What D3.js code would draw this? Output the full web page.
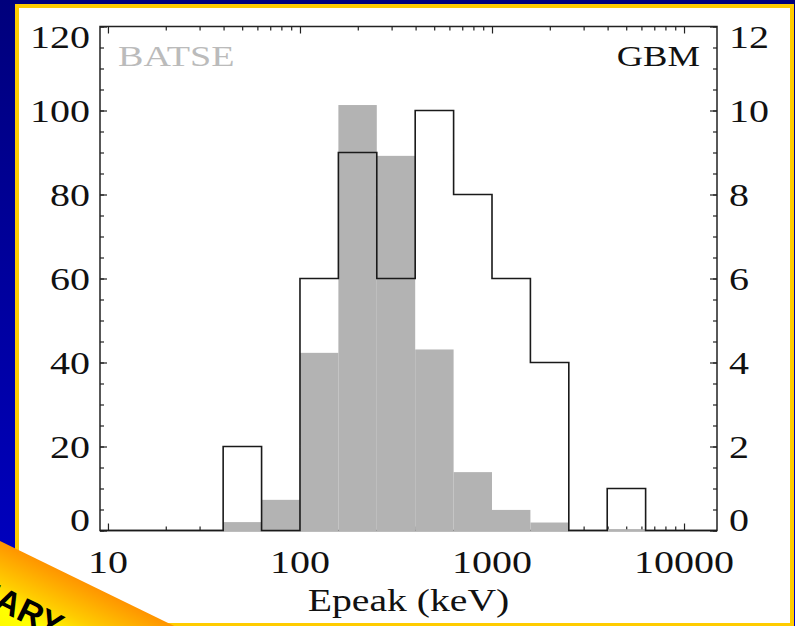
<!DOCTYPE html>
<html>
<head>
<meta charset="utf-8">
<script src="https://cdn.jsdelivr.net/npm/d3@7/dist/d3.min.js"></script>
<style>
  html, body { margin: 0; padding: 0; background: #fff; }
  svg { display: block; }
</style>
</head>
<body>
<script>
// Epeak distributions: BATSE (filled, left axis) and GBM (outline, right axis)
const binEdges = [39.8, 63.1, 100, 158.5, 251.2, 398.1, 631.0, 1000, 1584.9, 2511.9, 3981.1, 6309.6];
const batseCounts = [2, 7.3, 42.3, 101.3, 89.2, 43.1, 13.9, 4.9, 1.9, 0, 0.3];
const gbmCounts = [2, 0, 6, 9, 6, 10, 8, 6, 4, 0, 1];
const xTickLabels = [10, 100, 1000, 10000];
const leftTickLabels = [0, 20, 40, 60, 80, 100, 120];
const rightTickLabels = [0, 2, 4, 6, 8, 10, 12];
const xDomain = [9.09, 14850];
const leftDomain = [0, 120];
const rightDomain = [0, 12];

const W = 795, H = 626;
const frame = { left: 100, right: 717, top: 26.5, bottom: 530.5 };
const serif = "'Liberation Serif', 'Times New Roman', serif";

const svg = d3.select("body").append("svg").attr("width", W).attr("height", H);
const defs = svg.append("defs");

// slide background
const bg = defs.append("linearGradient").attr("id", "bgGrad").attr("x1", 0).attr("y1", 0).attr("x2", 0).attr("y2", 1);
bg.append("stop").attr("offset", 0).attr("stop-color", "#00007c");
bg.append("stop").attr("offset", 1).attr("stop-color", "#0000c6");
svg.append("rect").attr("width", W).attr("height", H).attr("fill", "url(#bgGrad)");

// white panel with yellow border
svg.append("rect").attr("x", 17).attr("y", 6).attr("width", 775).attr("height", 619)
  .attr("fill", "#fff").attr("stroke", "#ffcc00").attr("stroke-width", 4);

const x = d3.scaleLog().domain(xDomain).range([frame.left, frame.right]);
const yL = d3.scaleLinear().domain(leftDomain).range([frame.bottom, frame.top]);
const yR = d3.scaleLinear().domain(rightDomain).range([frame.bottom, frame.top]);

const plot = svg.append("g");

// inward frame ticks
function tickGroup(axis, tx, ty) {
  const g = plot.append("g").attr("transform", `translate(${tx},${ty})`).call(axis);
  g.select(".domain").remove();
  g.selectAll("text").remove();
  g.selectAll("line").attr("stroke", "#222").attr("stroke-width", 1.2);
  return g;
}
const majorX = xTickLabels;
const minorX = [];
for (let d = 1; d <= 10000; d *= 10) for (let m = 2; m <= 9; m++) {
  const v = d * m;
  if (v > xDomain[0] && v < xDomain[1]) minorX.push(v);
}
tickGroup(d3.axisTop(x).tickValues(majorX).tickSize(7), 0, frame.bottom);
tickGroup(d3.axisTop(x).tickValues(minorX).tickSize(4), 0, frame.bottom);
tickGroup(d3.axisBottom(x).tickValues(majorX).tickSize(7), 0, frame.top);
tickGroup(d3.axisBottom(x).tickValues(minorX).tickSize(4), 0, frame.top);
tickGroup(d3.axisRight(yL).tickValues(d3.range(0, 121, 20)).tickSize(7), frame.left, 0);
tickGroup(d3.axisRight(yL).tickValues(d3.range(0, 121, 5)).tickSize(4), frame.left, 0);
tickGroup(d3.axisLeft(yR).tickValues(d3.range(0, 12.1, 2)).tickSize(7), frame.right, 0);
tickGroup(d3.axisLeft(yR).tickValues(d3.range(0, 12.1, 0.5)).tickSize(4), frame.right, 0);

// frame
plot.append("rect").attr("x", frame.left).attr("y", frame.top)
  .attr("width", frame.right - frame.left).attr("height", frame.bottom - frame.top)
  .attr("fill", "none").attr("stroke", "#222").attr("stroke-width", 1.5);

// BATSE filled histogram
const bins = batseCounts.map((v, i) => ({ x0: binEdges[i], x1: binEdges[i + 1], batse: v, gbm: gbmCounts[i] }));
plot.append("g").selectAll("rect").data(bins.filter(d => d.batse > 0)).join("rect")
  .attr("x", d => x(d.x0))
  .attr("width", d => x(d.x1) - x(d.x0))
  .attr("y", d => yL(d.batse))
  .attr("height", d => yL(0) - yL(d.batse) + 1)
  .attr("fill", "#b3b3b3");

// GBM outline histogram
const stepPts = [{ x: xDomain[0], v: 0 }]
  .concat(bins.map(d => ({ x: d.x0, v: d.gbm })))
  .concat([{ x: binEdges[binEdges.length - 1], v: 0 }, { x: xDomain[1], v: 0 }]);
plot.append("path")
  .attr("d", d3.line().x(d => x(d.x)).y(d => yR(d.v)).curve(d3.curveStepAfter)(stepPts))
  .attr("fill", "none").attr("stroke", "#1a1a1a").attr("stroke-width", 1.6)
  .attr("stroke-linejoin", "miter");

// text helper: horizontally widened serif type
function label(str, px, py, size, anchor, color, sx) {
  svg.append("text")
    .attr("transform", `translate(${px},${py}) scale(${sx},1)`)
    .attr("text-anchor", anchor)
    .attr("font-family", serif).attr("font-size", size)
    .attr("fill", color).text(str);
}
const tickSize = 32, tickScale = 1.25;
const edgeShift = v => (v === leftDomain[0] || v === rightDomain[0]) ? -10.5 : 0;
leftTickLabels.forEach(v => {
  const shift = v === leftDomain[1] ? 10.5 : edgeShift(v);
  label(String(v), 90, yL(v) + shift + 11, tickSize, "end", "#111", tickScale);
});
rightTickLabels.forEach(v => {
  const shift = v === rightDomain[1] ? 10.5 : edgeShift(v);
  label(String(v), 729, yR(v) + shift + 11, tickSize, "start", "#111", tickScale);
});
xTickLabels.forEach(v => label(String(v), x(v), 573, tickSize, "middle", "#111", tickScale));
label("Epeak (keV)", (frame.left + frame.right) / 2, 611, 31, "middle", "#111", 1.28);
label("BATSE", 118, 66, 30, "start", "#bbbbbb", 1.27);
label("GBM", 700, 66, 30, "end", "#111", 1.22);

// corner banner
const ban = defs.append("linearGradient").attr("id", "banGrad").attr("x1", 0).attr("y1", 0).attr("x2", 0).attr("y2", 1);
ban.append("stop").attr("offset", 0).attr("stop-color", "#ff9400");
ban.append("stop").attr("offset", 0.3).attr("stop-color", "#ffcc00");
ban.append("stop").attr("offset", 0.5).attr("stop-color", "#ffff00");
ban.append("stop").attr("offset", 1).attr("stop-color", "#ffee00");
const bannerG = svg.append("g").attr("transform", "translate(0,541) rotate(26)");
bannerG.append("rect").attr("x", -400).attr("y", 0).attr("width", 700).attr("height", 120).attr("fill", "url(#banGrad)");
bannerG.append("text").attr("x", 93).attr("y", 63).attr("text-anchor", "end")
  .attr("font-family", "'Liberation Sans', Arial, sans-serif").attr("font-weight", "bold")
  .attr("font-size", 34).attr("fill", "#000").text("PRELIMINARY");
</script>
</body>
</html>
